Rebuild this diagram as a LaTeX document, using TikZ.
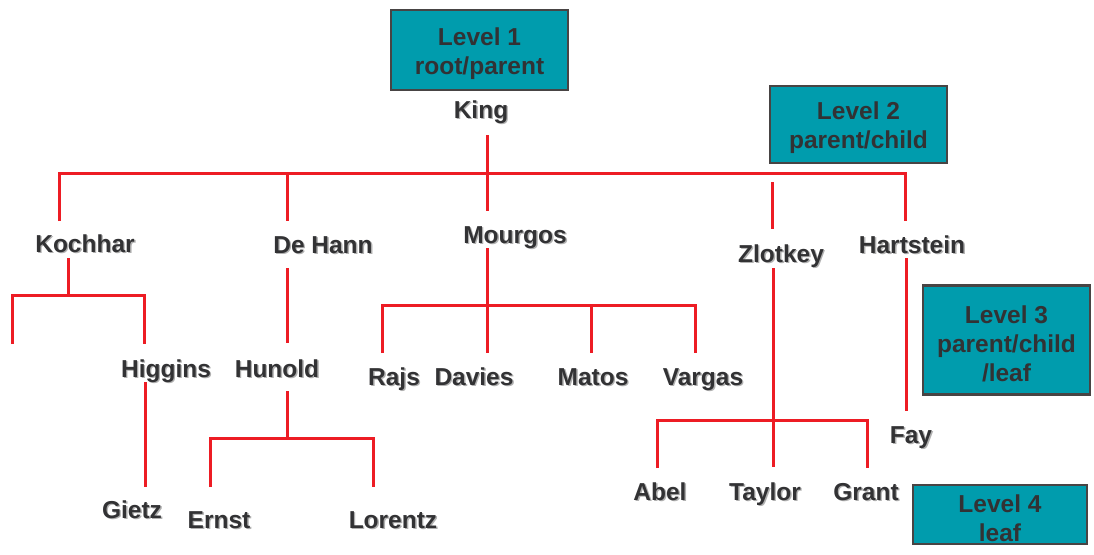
\documentclass[tikz,border=0pt]{standalone}
\usepackage{fontspec}
\setmainfont{Liberation Sans}
\definecolor{tealbox}{HTML}{009CAD}
\definecolor{boxedge}{HTML}{484444}
\definecolor{txtdark}{HTML}{323234}
\definecolor{shgray}{HTML}{B0B0B0}
\definecolor{linered}{HTML}{ED1C24}
\newcommand\shd[1]{\makebox[0pt][l]{\kern1.4pt\raisebox{-1.4pt}{\textcolor{shgray}{#1}}}#1}
\newcommand\lowr{\rule{0pt}{24.5pt}}
\begin{document}
\begin{tikzpicture}[x=1pt,y=-1pt,
  person/.style={anchor=base, inner sep=0pt, font=\fontsize{24.5}{29}\selectfont\bfseries, text=txtdark},
  levelbox/.style={draw=boxedge, line width=2.6pt, fill=tealbox, align=center, inner sep=0pt,
    font=\fontsize{24.5}{29}\selectfont\bfseries, text=txtdark},
  redline/.style={draw=linered, line width=3pt}]
\useasboundingbox (0,0) rectangle (1094,554);

% level boxes
\node[levelbox, minimum width=177pt, minimum height=80pt] (lv1) at (479.5,50) {\lowr Level 1\\root/parent};
\node[levelbox, minimum width=177pt, minimum height=77pt] (lv2) at (858.5,124.5) {\lowr Level 2\\parent/child};
\node[levelbox, minimum width=167pt, minimum height=109pt] (lv3) at (1006.5,340) {\lowr Level 3\\parent/child\\/leaf};
\node[levelbox, minimum width=174pt, minimum height=59pt] (lv4) at (1000,514.5) {\lowr Level 4\\leaf};

% people
\node[person] (king) at (481,118) {\shd{King}};
\node[person] (kochhar) at (85,252) {\shd{Kochhar}};
\node[person] (dehann) at (323,253) {\shd{De Hann}};
\node[person] (mourgos) at (515,243) {\shd{Mourgos}};
\node[person] (zlotkey) at (781,262) {\shd{Zlotkey}};
\node[person] (hartstein) at (912,253) {\shd{Hartstein}};
\node[person] (higgins) at (166,377) {\shd{Higgins}};
\node[person] (hunold) at (277,377) {\shd{Hunold}};
\node[person] (rajs) at (394,385) {\shd{Rajs}};
\node[person] (davies) at (474,385) {\shd{Davies}};
\node[person] (matos) at (593,385) {\shd{Matos}};
\node[person] (vargas) at (703,385) {\shd{Vargas}};
\node[person] (fay) at (911,443) {\shd{Fay}};
\node[person] (gietz) at (132,518) {\shd{Gietz}};
\node[person] (ernst) at (219,528) {\shd{Ernst}};
\node[person] (lorentz) at (393,528) {\shd{Lorentz}};
\node[person] (abel) at (660,500) {\shd{Abel}};
\node[person] (taylor) at (765,500) {\shd{Taylor}};
\node[person] (grant) at (866,500) {\shd{Grant}};

% connector end points
\coordinate (kingOut) at (487,135);
\coordinate (bar1) at (487,173);
\coordinate (kochIn) at (59,221);
\coordinate (kochTop) at (59,173);
\coordinate (hartTop) at (905,173);
\coordinate (hartIn) at (905,221);
\coordinate (dehTop) at (287,173);
\coordinate (dehIn) at (287,221);
\coordinate (mouIn) at (487,211);
\coordinate (zloA) at (772,182);
\coordinate (zloIn) at (772,229);

\coordinate (kochOut) at (68,258);
\coordinate (kochBar) at (68,295);
\coordinate (kLeftTop) at (12,295);
\coordinate (kLeftEnd) at (12,344);
\coordinate (kRightTop) at (144,295);
\coordinate (higIn) at (144,344);
\coordinate (higOut) at (145,382);
\coordinate (gieIn) at (145,487);

\coordinate (dehOut) at (287,268);
\coordinate (hunIn) at (287,343);
\coordinate (hunOut) at (287,391);
\coordinate (hunBar) at (287,438);
\coordinate (ernTop) at (210,438);
\coordinate (ernIn) at (210,487);
\coordinate (lorTop) at (373,438);
\coordinate (lorIn) at (373,487);

\coordinate (mouOut) at (487,248);
\coordinate (mouBar) at (487,305);
\coordinate (davIn) at (487,353);
\coordinate (rajTop) at (382,305);
\coordinate (rajIn) at (382,353);
\coordinate (matTop) at (591,305);
\coordinate (matIn) at (591,353);
\coordinate (varTop) at (695,305);
\coordinate (varIn) at (695,353);

\coordinate (zloOut) at (773,268);
\coordinate (zloBar) at (773,420);
\coordinate (tayIn) at (773,467);
\coordinate (abeTop) at (657,420);
\coordinate (abeIn) at (657,468);
\coordinate (graTop) at (867,420);
\coordinate (graIn) at (867,468);

\coordinate (harOut) at (906,258);
\coordinate (fayIn) at (906,411);

% connectors
\draw[redline] (kingOut) -- (bar1);
\draw[redline] (kochIn) -- (kochTop) -- (hartTop) -- (hartIn);
\draw[redline] (dehTop) -- (dehIn);
\draw[redline] (bar1) -- (mouIn);
\draw[redline] (zloA) -- (zloIn);

\draw[redline] (kochOut) -- (kochBar);
\draw[redline] (kLeftEnd) -- (kLeftTop) -- (kRightTop) -- (higIn);
\draw[redline] (higOut) -- (gieIn);

\draw[redline] (dehOut) -- (hunIn);
\draw[redline] (hunOut) -- (hunBar);
\draw[redline] (ernIn) -- (ernTop) -- (lorTop) -- (lorIn);

\draw[redline] (mouOut) -- (davIn);
\draw[redline] (rajIn) -- (rajTop) -- (varTop) -- (varIn);
\draw[redline] (matTop) -- (matIn);

\draw[redline] (zloOut) -- (tayIn);
\draw[redline] (abeIn) -- (abeTop) -- (graTop) -- (graIn);

\draw[redline] (harOut) -- (fayIn);
\end{tikzpicture}
\end{document}
